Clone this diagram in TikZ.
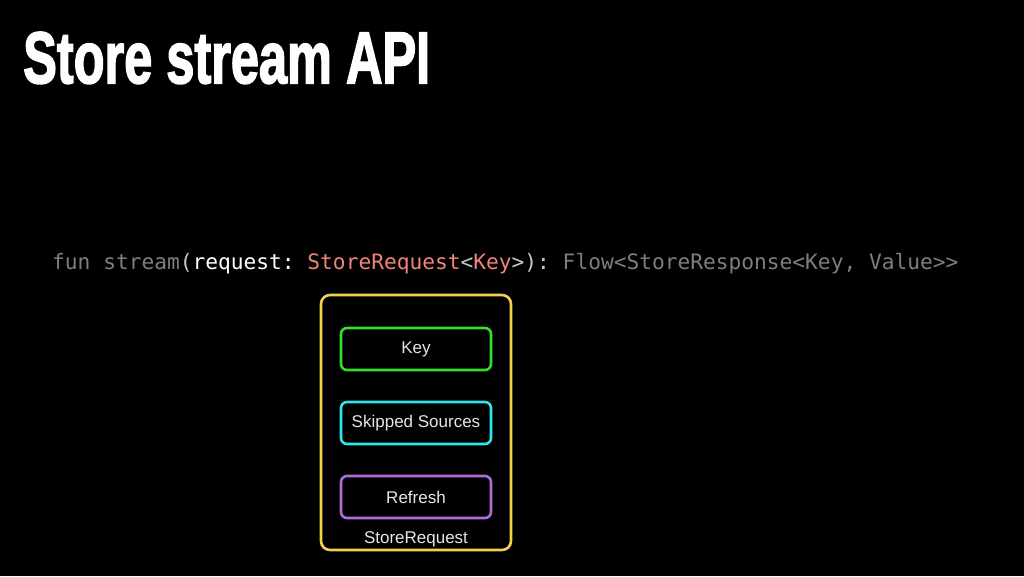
\documentclass[tikz,border=0pt]{standalone}
\usepackage{fontspec}
\usepackage{graphicx}
\setmainfont{Liberation Sans}
\setmonofont{DejaVu Sans Mono}
\newfontfamily\titlefont[FakeBold=2.5]{Liberation Sans Bold}
\definecolor{codegray}{HTML}{7E7E7E}
\definecolor{codelight}{HTML}{C8CACA}
\definecolor{codesalmon}{HTML}{F0837B}
\definecolor{boxyellow}{HTML}{F2D04E}
\definecolor{boxgreen}{HTML}{35DE2E}
\definecolor{boxcyan}{HTML}{2EE6EE}
\definecolor{boxpurple}{HTML}{AE6CDC}
\definecolor{labeltext}{HTML}{E6E6E6}
\tikzset{
  field/.style={draw, line width=2.6pt, rounded corners=6pt, minimum width=150pt, minimum height=42pt, text=labeltext, font=\fontsize{17}{20}\selectfont, inner sep=0pt},
  container/.style={draw=boxyellow, line width=2.6pt, rounded corners=9pt},
}
\begin{document}
\begin{tikzpicture}[x=1pt,y=-1pt]
\fill[black] (0,0) rectangle (1024,576);
\useasboundingbox (0,0) rectangle (1024,576);
\node[anchor=south west, inner sep=0pt, text=white] (title) at (23,84)
  {\resizebox{407pt}{51pt}{\titlefont Store stream API}};
\node[anchor=base west, inner sep=0pt, font=\ttfamily\fontsize{21.2}{24}\selectfont] (code) at (52,269)
  {\textcolor{codegray}{fun stream}\textcolor{codelight}{(}\textcolor{white}{request: }\textcolor{codesalmon}{StoreRequest}\textcolor{codelight}{<}\textcolor{codesalmon}{Key}\textcolor{codelight}{>): }\textcolor{codegray}{Flow<StoreResponse<Key, Value>{}>}};
\node[container, minimum width=190pt, minimum height=255pt, inner sep=0pt] (req) at (416,422.5) {};
\node[field, draw=boxgreen] (key) at (416,349) {Key};
\node[field, draw=boxcyan] (skip) at (416,423) {Skipped Sources};
\node[field, draw=boxpurple] (refresh) at (416,497) {Refresh};
\node[anchor=base, inner sep=0pt, text=labeltext, font=\fontsize{17}{20}\selectfont] (reqlabel) at (416,543) {StoreRequest};
\end{tikzpicture}
\end{document}
